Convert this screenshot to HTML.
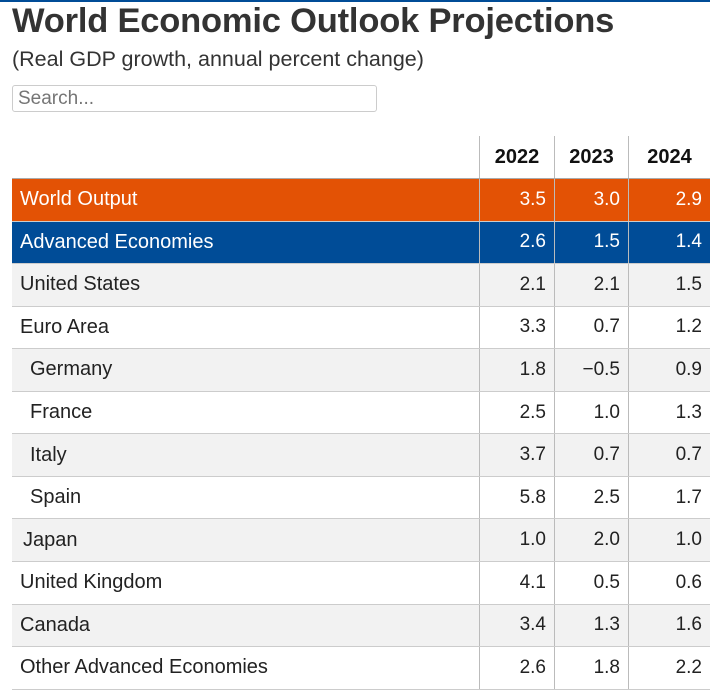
<!DOCTYPE html>
<html><head><meta charset="utf-8">
<style>
*{margin:0;padding:0;box-sizing:border-box}
body{width:710px;height:686px;overflow:hidden;background:#fff;font-family:"Liberation Sans",sans-serif;color:#222;position:relative}
#topbar{position:absolute;left:0;top:0;width:710px;height:2px;background:#004c97}
h1{position:absolute;left:12px;top:2px;font-size:34.5px;font-weight:bold;color:#333;white-space:nowrap;letter-spacing:-0.2px}
.sub{position:absolute;left:12px;top:47px;font-size:21.5px;color:#333;white-space:nowrap}
.search{position:absolute;left:12px;top:85px;width:365px;height:27px;border:1px solid #ccc;border-radius:3px;font-size:19px;color:#666;padding:2px 5px;font-family:"Liberation Sans",sans-serif}
.row{position:absolute;left:12px;width:698px;border-bottom:1px solid #ccc}
.cell{position:absolute;top:0;height:100%;display:flex;align-items:center;font-size:19px;white-space:nowrap}
.lab{left:0;width:467px;padding-left:8px;font-size:20px}
.num{justify-content:flex-end;padding-right:8px;border-left:1px solid #bbb}
.c1{left:467px;width:75px}.c2{left:542px;width:74px}.c3{left:616px;width:82px}
.hdr .cell{font-weight:bold;font-size:20px;color:#111;justify-content:center;padding:0}
</style></head><body>
<div id="topbar"></div>
<h1>World Economic Outlook Projections</h1>
<div class="sub">(Real GDP growth, annual percent change)</div>
<input class="search" placeholder="Search...">
<div class="row hdr" style="top:136px;height:43px;border-bottom:1px solid #aaa">
<div class="cell c1 num">2022</div>
<div class="cell c2 num">2023</div>
<div class="cell c3 num">2024</div>
</div>
<div id="rows"></div>
<script>
const labels=["World Output","Advanced Economies","United States","Euro Area","Germany","France","Italy","Spain","Japan","United Kingdom","Canada","Other Advanced Economies"];
const v2022=["3.5","2.6","2.1","3.3","1.8","2.5","3.7","5.8","1.0","4.1","3.4","2.6"];
const v2023=["3.0","1.5","2.1","0.7","−0.5","1.0","0.7","2.5","2.0","0.5","1.3","1.8"];
const v2024=["2.9","1.4","1.5","1.2","0.9","1.3","0.7","1.7","1.0","0.6","1.6","2.2"];
const indent=[0,0,0,0,1,1,1,1,0.3,0,0,0];
const host=document.getElementById('rows');
labels.forEach((l,i)=>{
  const r=document.createElement('div');
  r.className='row';
  
  
  const top=179+i*42.55;
  r.style.top=top+'px';r.style.height='42.6px';
  let bg=i%2===0?'#f2f2f2':'#fff';let col='#222';
  if(i===0){bg='#e35205';col='#fff';}
  if(i===1){bg='#004c97';col='#fff';}
  r.style.background=bg;r.style.color=col;
  const a=document.createElement('div');
  a.className='cell lab';a.textContent=l;
  a.style.paddingLeft=(8+indent[i]*10)+'px';
  
  
  r.appendChild(a);
  [[v2022,'c1'],[v2023,'c2'],[v2024,'c3']].forEach(([arr,c])=>{
    const d=document.createElement('div');
    d.className='cell num '+c;d.textContent=arr[i];
    
    
    r.appendChild(d);
  });
  host.appendChild(r);
});
</script>
</body></html>
